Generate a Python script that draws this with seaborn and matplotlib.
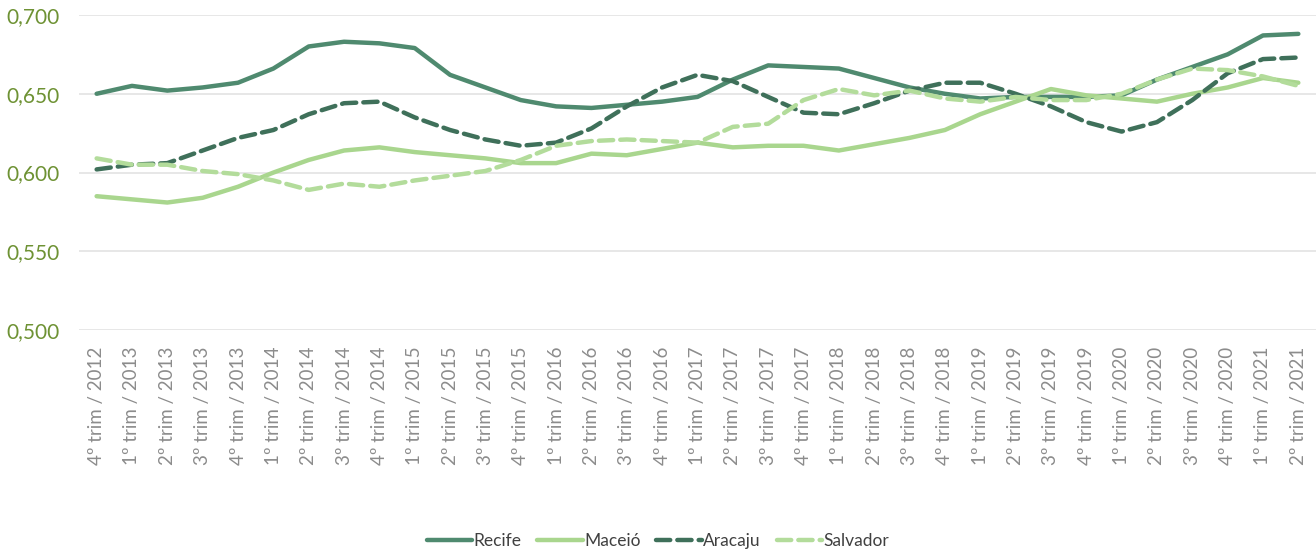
import matplotlib
matplotlib.use("Agg")
import matplotlib.pyplot as plt
import seaborn as sns
import pandas as pd

# Quarter labels
quarters = ["4º trim / 2012"]
for yr in range(2013, 2021):
    for q in range(1, 5):
        quarters.append(f"{q}º trim / {yr}")
quarters += ["1º trim / 2021", "2º trim / 2021"]

recife = [0.650, 0.655, 0.652, 0.654, 0.657, 0.666, 0.680, 0.683, 0.682, 0.679,
          0.662, 0.654, 0.646, 0.642, 0.641, 0.643, 0.645, 0.648, 0.659, 0.668,
          0.667, 0.666, 0.660, 0.654, 0.650, 0.647, 0.648, 0.648, 0.648, 0.649,
          0.659, 0.667, 0.675, 0.687, 0.688]
maceio = [0.585, 0.583, 0.581, 0.584, 0.591, 0.600, 0.608, 0.614, 0.616, 0.613,
          0.611, 0.609, 0.606, 0.606, 0.612, 0.611, 0.615, 0.619, 0.616, 0.617,
          0.617, 0.614, 0.618, 0.622, 0.627, 0.637, 0.645, 0.653, 0.649, 0.647,
          0.645, 0.650, 0.654, 0.660, 0.657]
aracaju = [0.602, 0.605, 0.606, 0.614, 0.622, 0.627, 0.637, 0.644, 0.645, 0.635,
           0.627, 0.621, 0.617, 0.619, 0.628, 0.642, 0.654, 0.662, 0.658, 0.648,
           0.638, 0.637, 0.644, 0.652, 0.657, 0.657, 0.650, 0.642, 0.632, 0.626,
           0.632, 0.646, 0.663, 0.672, 0.673]
salvador = [0.609, 0.605, 0.605, 0.601, 0.599, 0.595, 0.589, 0.593, 0.591, 0.595,
            0.598, 0.601, 0.608, 0.617, 0.620, 0.621, 0.620, 0.619, 0.629, 0.631,
            0.646, 0.653, 0.649, 0.652, 0.647, 0.645, 0.648, 0.646, 0.646, 0.650,
            0.659, 0.666, 0.665, 0.661, 0.655]

series_names = ["Recife", "Maceió", "Aracaju", "Salvador"]
colors = {"Recife": "#4f8a6f", "Maceió": "#a9d68e", "Aracaju": "#3f705a", "Salvador": "#b3dc9b"}

df = pd.DataFrame({
    "idx": list(range(len(quarters))) * 4,
    "valor": recife + maceio + aracaju + salvador,
    "cidade": sum([[n] * len(quarters) for n in series_names], []),
})

sns.set_theme(style="white")
plt.rcParams["font.family"] = ["Lato", "DejaVu Sans"]

fig = plt.figure(figsize=(13.16, 5.54), dpi=100)
ax = fig.add_axes([0.060, 0.404, 0.940, 0.569])

for name in series_names:
    sub = df[df["cidade"] == name]
    dashed = name in ("Aracaju", "Salvador")
    sns.lineplot(data=sub, x="idx", y="valor", ax=ax, color=colors[name], lw=3.2,
                 label=name, linestyle=(0, (3.2, 1.6)) if dashed else "-",
                 solid_capstyle="round", dash_capstyle="round")

ax.set_xlim(-0.5, len(quarters) - 0.5)
ax.set_ylim(0.5, 0.7)
ax.set_yticks([0.5, 0.55, 0.6, 0.65, 0.7])
ax.set_yticklabels([f"{v:.3f}".replace(".", ",") for v in [0.5, 0.55, 0.6, 0.65, 0.7]],
                   color="#6e9234", fontsize=15)
ax.set_xticks(range(len(quarters)))
ax.set_xticklabels(quarters, rotation=90, color="#8c8c8c", fontsize=13.5)
ax.tick_params(axis="x", pad=12, length=0)
ax.tick_params(axis="y", pad=14, length=0)
ax.yaxis.grid(True, color="#e3e3e3", lw=1.2)
ax.set_axisbelow(True)
sns.despine(ax=ax, left=True, bottom=True)
ax.set_xlabel("")
ax.set_ylabel("")

handles, labels = ax.get_legend_handles_labels()
ax.legend_.remove()
fig.legend(handles, labels, loc="lower center", bbox_to_anchor=(0.5, -0.02), ncol=4,
           frameon=False, fontsize=12.5, handlelength=2.6, columnspacing=0.9,
           handletextpad=0.1, labelcolor="#404040")

fig.savefig("out.png", dpi=100)
